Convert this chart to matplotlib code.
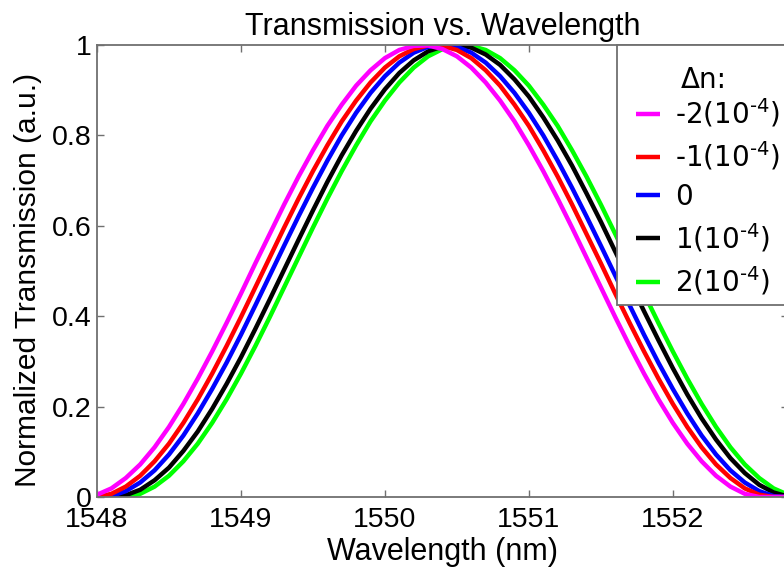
import matplotlib
matplotlib.use("Agg")
import matplotlib.pyplot as plt
from matplotlib.patches import Rectangle
import numpy as np

# sample wavelengths (nm), 0.1 nm spacing
wavelength = np.linspace(1548.0, 1552.8, 49)

# normalized transmission for each index change
t_m2 = [0.005, 0.019, 0.042, 0.072, 0.110, 0.155, 0.206, 0.262, 0.322, 0.385,
        0.450, 0.517, 0.582, 0.647, 0.709, 0.767, 0.821, 0.868, 0.910, 0.944,
        0.971, 0.989, 0.998, 0.999, 0.991, 0.975, 0.950, 0.917, 0.877, 0.831,
        0.778, 0.721, 0.660, 0.596, 0.530, 0.464, 0.398, 0.334, 0.273, 0.216,
        0.164, 0.118, 0.079, 0.047, 0.023, 0.007, 0.000, 0.000, 0.000]
t_m1 = [0.000, 0.007, 0.023, 0.047, 0.079, 0.118, 0.164, 0.216, 0.273, 0.334,
        0.398, 0.464, 0.530, 0.596, 0.660, 0.721, 0.778, 0.831, 0.877, 0.917,
        0.950, 0.975, 0.991, 0.999, 0.998, 0.989, 0.971, 0.944, 0.910, 0.868,
        0.821, 0.767, 0.709, 0.647, 0.582, 0.517, 0.450, 0.385, 0.322, 0.262,
        0.206, 0.155, 0.110, 0.072, 0.042, 0.019, 0.005, 0.000, 0.000]
t_0 = [0.000, 0.002, 0.013, 0.032, 0.059, 0.094, 0.136, 0.185, 0.239, 0.297,
       0.359, 0.424, 0.490, 0.556, 0.621, 0.684, 0.744, 0.800, 0.850, 0.894,
       0.931, 0.961, 0.983, 0.996, 1.000, 0.996, 0.983, 0.961, 0.931, 0.894,
       0.850, 0.800, 0.744, 0.684, 0.621, 0.556, 0.490, 0.424, 0.359, 0.297,
       0.239, 0.185, 0.136, 0.094, 0.059, 0.032, 0.013, 0.002, 0.000]
t_p1 = [0.000, 0.000, 0.004, 0.016, 0.037, 0.065, 0.102, 0.145, 0.195, 0.250,
        0.309, 0.372, 0.437, 0.503, 0.569, 0.634, 0.697, 0.756, 0.810, 0.859,
        0.902, 0.938, 0.966, 0.986, 0.997, 1.000, 0.994, 0.979, 0.956, 0.924,
        0.886, 0.840, 0.789, 0.733, 0.672, 0.609, 0.543, 0.477, 0.411, 0.347,
        0.285, 0.227, 0.174, 0.127, 0.086, 0.053, 0.027, 0.010, 0.001]
t_p2 = [0.000, 0.000, 0.000, 0.007, 0.023, 0.047, 0.079, 0.118, 0.164, 0.216,
        0.273, 0.334, 0.398, 0.464, 0.530, 0.596, 0.660, 0.721, 0.778, 0.831,
        0.877, 0.917, 0.950, 0.975, 0.991, 0.999, 0.998, 0.989, 0.971, 0.944,
        0.910, 0.868, 0.821, 0.767, 0.709, 0.647, 0.582, 0.517, 0.450, 0.385,
        0.322, 0.262, 0.206, 0.155, 0.110, 0.072, 0.042, 0.019, 0.005]

series = [t_m2, t_m1, t_0, t_p1, t_p2]
labels = [r"-2(10$^{\text{-}4}$)", r"-1(10$^{\text{-}4}$)", "0",
          r"1(10$^{\text{-}4}$)", r"2(10$^{\text{-}4}$)"]
colors = ["#ff00ff", "#ff0000", "#0000ff", "#000000", "#00ff00"]

xticks = [1548, 1549, 1550, 1551, 1552]
yticks = [0, 0.2, 0.4, 0.6, 0.8, 1]
ytick_labels = ["0", "0.2", "0.4", "0.6", "0.8", "1"]

plt.rcParams["font.family"] = ["Liberation Sans", "DejaVu Sans"]
plt.rcParams["mathtext.fontset"] = "dejavusans"
edge = "#707070"
W, H = 784, 569

fig = plt.figure(figsize=(W / 100, H / 100), dpi=100)
ax = fig.add_axes([97 / W, 72 / H, 691 / W, 452 / H])

# last series drawn first so the -2 curve sits on top
handles = [None] * len(series)
for k in reversed(range(len(series))):
    (h,) = ax.plot(wavelength, series[k], color=colors[k], lw=3.2,
                   solid_capstyle="butt")
    handles[k] = h

ax.set_xlim(1548, 1552.8)
ax.set_ylim(0, 1)
ax.set_xticks(xticks)
ax.set_yticks(yticks)
ax.set_yticklabels(ytick_labels)
ax.tick_params(direction="in", length=5, width=1, colors=edge,
               labelcolor="black", labelsize=20.5, top=True, right=True)
ax.tick_params(axis="x", pad=7)
ax.tick_params(axis="y", pad=4)
for s in ax.spines.values():
    s.set_color(edge)
    s.set_linewidth(1.3)

ax.set_title("Transmission vs. Wavelength", fontsize=22, pad=7)
ax.set_xlabel("Wavelength (nm)", fontsize=22, labelpad=3)
ax.set_ylabel("Normalized Transmission (a.u.)", fontsize=21.5)
ax.yaxis.set_label_coords(-0.08, 0.48)

# legend box: frame and heading placed by hand, entries from fig.legend
box = Rectangle((617 / W, 1 - 305 / H), 180 / W, 260 / H,
                transform=fig.transFigure, facecolor="white",
                edgecolor=edge, linewidth=1.3, zorder=4)
fig.add_artist(box)
fig.text(704 / W, 1 - 88 / H, "Δn:", ha="center", va="baseline",
         family="DejaVu Sans", fontsize=20, zorder=6)

leg = fig.legend(handles, labels, loc="center left",
                 bbox_to_anchor=(636 / W, 1 - 197 / H),
                 prop={"family": "DejaVu Sans", "size": 20},
                 frameon=False, handlelength=0.86, handletextpad=0.54,
                 labelspacing=0.37, borderpad=0, borderaxespad=0)
leg.set_zorder(6)
for line in leg.get_lines():
    line.set_linewidth(3.2)

fig.savefig("out.png", dpi=100)
